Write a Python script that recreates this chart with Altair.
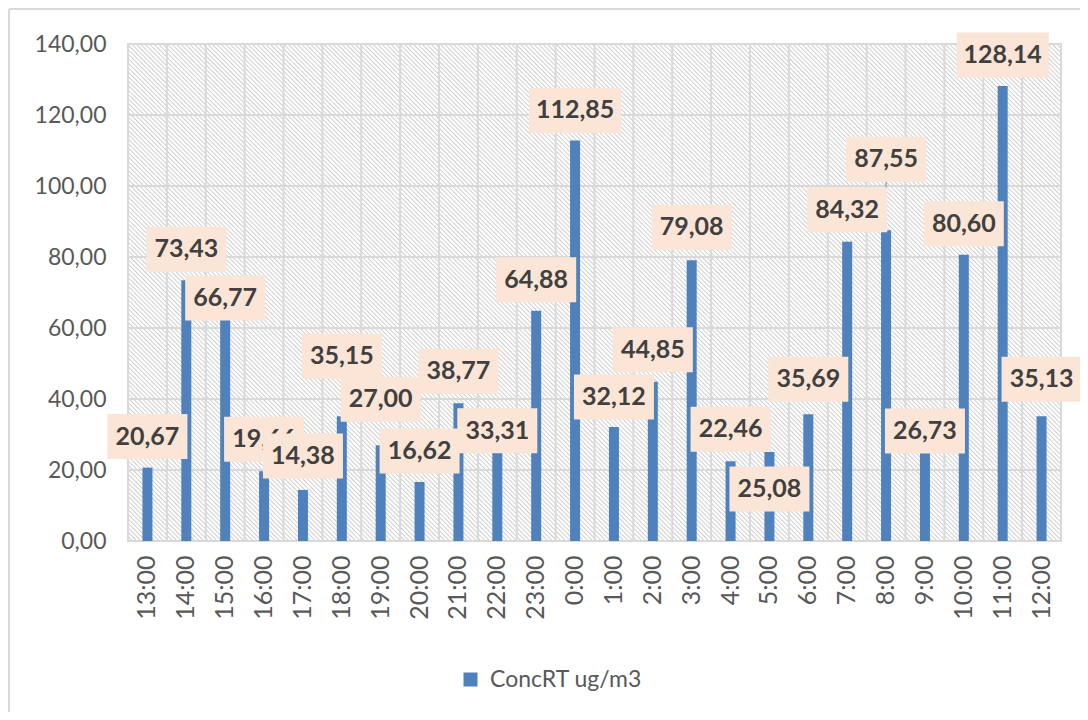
import altair as alt
import pandas as pd

hours = ["13:00", "14:00", "15:00", "16:00", "17:00", "18:00", "19:00", "20:00",
         "21:00", "22:00", "23:00", "0:00", "1:00", "2:00", "3:00", "4:00",
         "5:00", "6:00", "7:00", "8:00", "9:00", "10:00", "11:00", "12:00"]
values = [20.67, 73.43, 66.77, 19.66, 14.38, 35.15, 27.00, 16.62, 38.77, 33.31,
          64.88, 112.85, 32.12, 44.85, 79.08, 22.46, 25.08, 35.69, 84.32, 87.55,
          26.73, 80.60, 128.14, 35.13]
y_ticks = [0, 20, 40, 60, 80, 100, 120, 140]
series_name = "ConcRT ug/m3"

# layout: vertical shift of each data label (pixels, negative = up)
label_shift = [-31, -31, -6, -32, -34, -60, -46, -31, -32, 8, -31, -30,
               -30, -32, -33, -32, 37, -35, -32, -71, -15, -31, -31, -37]

W, H = 933, 497
PAD_L, PAD_T = 120, 36
PX = 140 / H  # data units per pixel

df = pd.DataFrame({"hour": hours, "value": values, "series": series_name,
                   "shift": label_shift})
df["label"] = [f"{v:.2f}".replace(".", ",") for v in values]
df["len"] = df["label"].str.len()
ticks_df = pd.DataFrame({"t": y_ticks})
one = pd.DataFrame({"a": [0]})

# hatched background via a striped linear gradient (45 degree stripes)
a = W * (W + H) / (W * W + H * H)
b = -a * H / W
N = 320
stops = []
for k in range(N):
    stops.append(alt.GradientStop(color="#CCCCCC", offset=k / N))
    stops.append(alt.GradientStop(color="#FFFFFF", offset=(k + 0.3) / N))
    stops.append(alt.GradientStop(color="#FFFFFF", offset=(k + 0.7) / N))
stops.append(alt.GradientStop(color="#CCCCCC", offset=1.0))
grad = alt.LinearGradient(gradient="linear", stops=stops, x1=0, y1=1, x2=a, y2=1 + b)

xscale = alt.Scale(domain=hours, paddingInner=0, paddingOuter=0)
yscale = alt.Scale(domain=[0, 140], nice=False)
xaxis = alt.Axis(labelAngle=-90, labelFont="Lato", labelFontSize=25,
                 labelColor="#595959", labelPadding=14, domain=False,
                 ticks=False, grid=False, labelOverlap=False, title=None)
yaxis = alt.Axis(values=y_ticks, labelFont="Lato", labelFontSize=23,
                 labelColor="#595959", labelPadding=22, domain=False,
                 ticks=False, grid=False, title=None,
                 labelExpr="replace(format(datum.value, '.2f'), '.', ',')")

X = alt.X("hour:N", sort=hours, scale=xscale, axis=xaxis)

bg = alt.Chart(one).mark_rect(fill=grad, stroke="#D9D9D9", strokeWidth=2).encode(
    x=alt.value(0), x2=alt.value("width"), y=alt.value(0), y2=alt.value("height"))

hgrid = alt.Chart(ticks_df).mark_rule(color="#D9D9D9", strokeWidth=2).encode(
    y=alt.Y("t:Q", scale=yscale, axis=yaxis))

base = alt.Chart(df)

vgrid = base.mark_rule(color="#D9D9D9", strokeWidth=2).encode(
    x=alt.X("hour:N", sort=hours, scale=xscale, bandPosition=0, axis=xaxis))

bars = base.mark_bar(size=10).encode(
    x=X,
    y=alt.Y("value:Q", scale=yscale, axis=yaxis),
    color=alt.Color("series:N", scale=alt.Scale(range=["#4F81BD"]), title=None,
                    legend=alt.Legend(orient="none", legendX=331, legendY=624,
                                      symbolType="square", symbolSize=196,
                                      labelFont="Lato", labelFontSize=23,
                                      labelColor="#595959", labelOffset=8,
                                      padding=0)),
)

labels_base = base.transform_calculate(
    ly=f"datum.value - datum.shift * {PX}",
    lb=f"datum.value - (datum.shift + 22.5) * {PX}")
LY = alt.Y("ly:Q", scale=yscale, axis=yaxis)

leader = labels_base.transform_filter("datum.shift < -65").mark_rule(
    color="#A6A6A6", strokeWidth=1.5).encode(
    x=X, y=alt.Y("value:Q", scale=yscale, axis=yaxis), y2="lb:Q")

label_layers = []
for h_, lab in zip(hours, df["label"]):
    w = 92 if len(lab) >= 6 else 80
    hh = 22.5 / (w / 2)
    path = f"M-1,-{hh:.4f}H1V{hh:.4f}H-1Z"
    sub = labels_base.transform_filter(alt.datum.hour == h_)
    label_layers.append(sub.mark_point(
        shape=path, filled=True, color="#FBE5D6", opacity=1, size=w * w,
        strokeWidth=0).encode(x=X, y=LY))
    label_layers.append(sub.mark_text(
        font="Lato", fontWeight="bold", fontSize=25, color="#404040",
        baseline="middle").encode(x=X, y=LY, text="label:N"))

border_top = alt.Chart(one).mark_rule(color="#D9D9D9", strokeWidth=2).encode(
    x=alt.value(-PAD_L + 1), x2=alt.value(W + 40), y=alt.value(-PAD_T + 1))
border_left = alt.Chart(one).mark_rule(color="#D9D9D9", strokeWidth=2).encode(
    x=alt.value(-PAD_L + 1), y=alt.value(-PAD_T + 1), y2=alt.value(H + 200))

chart = alt.layer(bg, hgrid, vgrid, bars, leader, *label_layers,
                  border_top, border_left).properties(
    width=W, height=H,
    autosize=alt.AutoSizeParams(type="none"),
    padding={"left": PAD_L, "top": PAD_T, "right": 1072 - PAD_L - W,
             "bottom": 704 - PAD_T - H},
    background="white",
).configure_view(stroke=None)

chart.save("out.html", embed_options={"renderer": "svg", "actions": False})
